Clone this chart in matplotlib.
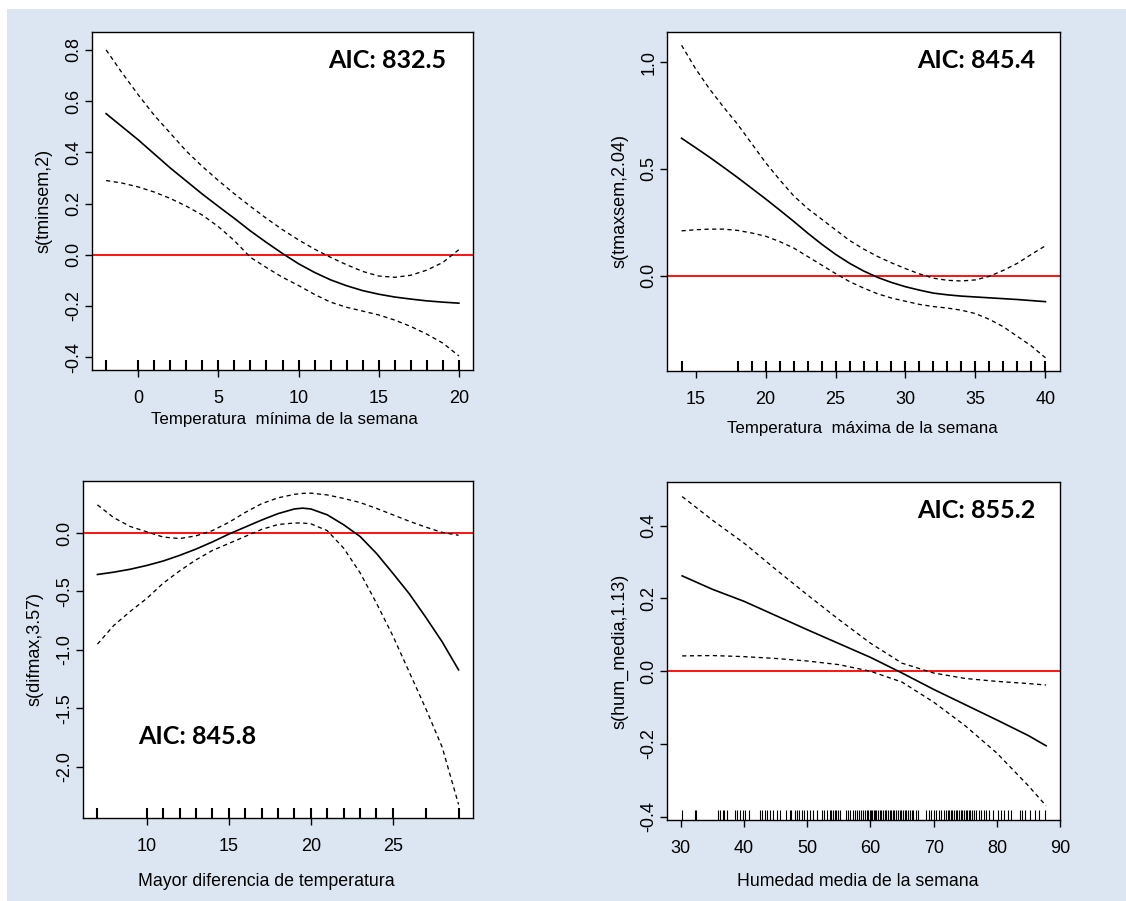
import matplotlib
matplotlib.use('Agg')
import matplotlib.pyplot as plt
from matplotlib.patches import Rectangle

plt.rcParams['font.family'] = ['Liberation Sans', 'DejaVu Sans']

# ---------------- data ----------------
# Panel 1: minimum weekly temperature
tmin_x = [-2, -1, 0, 1, 2, 3, 4, 5, 6, 7, 8, 9, 10, 11, 12, 13, 14, 15, 16, 17, 18, 19, 20]
tmin_fit = [0.551, 0.50, 0.449, 0.394, 0.339, 0.288, 0.237, 0.189, 0.142, 0.093, 0.048, 0.005,
            -0.035, -0.069, -0.098, -0.121, -0.140, -0.154, -0.165, -0.173, -0.180, -0.185, -0.189]
tmin_up = [0.80, 0.71, 0.625, 0.545, 0.475, 0.405, 0.345, 0.290, 0.238, 0.189, 0.142, 0.098,
           0.058, 0.022, -0.010, -0.039, -0.065, -0.083, -0.088, -0.080, -0.060, -0.030, 0.020]
tmin_lo = [0.29, 0.28, 0.265, 0.245, 0.22, 0.19, 0.155, 0.11, 0.055, -0.01, -0.05, -0.088,
           -0.12, -0.155, -0.185, -0.205, -0.22, -0.235, -0.255, -0.28, -0.31, -0.345, -0.395]
tmin_rug = [-2, 0, 1, 2, 3, 4, 5, 6, 7, 8, 9, 10, 11, 12, 13, 14, 15, 16, 17, 18, 19, 20]

# Panel 2: maximum weekly temperature
tmax_x = [14, 15, 16, 17, 18, 19, 20, 21, 22, 23, 24, 25, 26, 27, 28, 29, 30, 31, 32, 33, 34,
          35, 36, 37, 38, 39, 40]
tmax_fit = [0.644, 0.60, 0.555, 0.508, 0.46, 0.41, 0.36, 0.308, 0.255, 0.20, 0.148, 0.10, 0.058,
            0.022, -0.008, -0.032, -0.052, -0.068, -0.082, -0.09, -0.096, -0.10, -0.104, -0.108,
            -0.112, -0.117, -0.122]
tmax_up = [1.08, 0.97, 0.875, 0.79, 0.71, 0.62, 0.53, 0.45, 0.375, 0.315, 0.265, 0.215, 0.165,
           0.125, 0.09, 0.06, 0.033, 0.008, -0.012, -0.022, -0.025, -0.02, -0.003, 0.025, 0.058,
           0.10, 0.14]
tmax_lo = [0.21, 0.215, 0.218, 0.218, 0.212, 0.20, 0.185, 0.16, 0.13, 0.09, 0.05, 0.01, -0.028,
           -0.058, -0.085, -0.105, -0.12, -0.135, -0.145, -0.152, -0.162, -0.178, -0.205, -0.24,
           -0.285, -0.33, -0.385]
tmax_rug = [14, 18, 19, 20, 21, 22, 23, 24, 25, 26, 27, 28, 29, 30, 31, 32, 33, 34, 35, 36, 37,
            38, 39, 40]

# Panel 3: largest temperature difference
dif_x = [7, 8, 9, 10, 11, 12, 13, 14, 15, 16, 17, 18, 19, 19.5, 20, 21, 22, 23, 24, 25, 26, 27,
         28, 29]
dif_fit = [-0.355, -0.335, -0.31, -0.278, -0.24, -0.192, -0.138, -0.077, -0.01, 0.05, 0.11,
           0.165, 0.205, 0.212, 0.205, 0.155, 0.07, -0.03, -0.175, -0.345, -0.52, -0.72, -0.93,
           -1.17]
dif_up = [0.24, 0.13, 0.055, 0.01, -0.035, -0.048, -0.025, 0.02, 0.09, 0.175, 0.25, 0.30, 0.33,
          0.338, 0.34, 0.325, 0.295, 0.26, 0.21, 0.155, 0.10, 0.05, 0.005, -0.02]
dif_lo = [-0.95, -0.79, -0.67, -0.56, -0.43, -0.325, -0.23, -0.15, -0.09, -0.03, 0.03, 0.072,
          0.085, 0.085, 0.078, 0.02, -0.13, -0.34, -0.60, -0.88, -1.19, -1.50, -1.83, -2.32]
dif_rug = [7, 10, 11, 12, 13, 14, 15, 16, 17, 18, 19, 20, 21, 22, 23, 24, 25, 27, 29]

# Panel 4: mean weekly humidity
hum_x = [30.2, 35, 40, 45, 50, 55, 60, 65, 70, 75, 80, 85, 87.8]
hum_fit = [0.262, 0.225, 0.192, 0.153, 0.114, 0.076, 0.038, -0.005, -0.05, -0.092, -0.134,
           -0.177, -0.205]
hum_up = [0.48, 0.415, 0.352, 0.28, 0.21, 0.142, 0.077, 0.022, -0.005, -0.02, -0.028, -0.034,
          -0.038]
hum_lo = [0.042, 0.043, 0.04, 0.035, 0.028, 0.018, 0.0, -0.03, -0.085, -0.15, -0.225, -0.315,
          -0.37]
hum_rug = [30.2, 32.3, 32.4, 35.9, 36.2, 36.6, 36.9, 37.3, 38.6, 38.8, 39.4, 39.8, 40.1, 40.7,
           42.5, 42.9, 43.3, 43.7, 44.1, 44.6, 45.2, 45.7, 46.7, 47.2, 47.5, 48.1, 48.4, 48.7,
           49.2, 49.5, 50.0, 50.4, 50.9, 51.5, 52.3, 52.6, 53.1, 53.6, 53.8, 54.1, 54.4, 54.6,
           54.9, 55.2, 56.2, 56.5, 56.8, 57.2, 57.5, 57.8, 58.2, 58.5, 58.8, 59.2, 59.4, 59.6,
           59.9, 60.1, 60.3, 60.5, 60.7, 60.9, 61.2, 61.5, 61.7, 62.0, 62.3, 62.5, 62.8, 63.1,
           63.3, 63.6, 63.8, 64.1, 64.4, 64.6, 64.9, 65.2, 65.4, 65.7, 65.9, 66.2, 66.5, 66.8,
           67.2, 67.5, 68.8, 69.3, 69.6, 70.0, 70.4, 70.8, 71.2, 71.6, 71.9, 72.2, 72.4, 72.7,
           72.9, 73.2, 73.5, 73.7, 74.0, 74.3, 74.5, 74.8, 75.1, 75.3, 75.6, 75.8, 76.1, 76.4,
           76.7, 77.2, 77.5, 77.9, 78.3, 78.8, 79.4, 80.2, 80.7, 81.2, 81.7, 82.3, 83.6, 84.0,
           84.4, 85.2, 86.0, 86.7, 87.7]

panels = [
    dict(x=tmin_x, fit=tmin_fit, up=tmin_up, lo=tmin_lo, rug=tmin_rug, rug_lw=1.5,
         box=(92, 32, 473, 370), xlim=(-2.88, 20.88), ylim=(-0.45, 0.87),
         xticks=[0, 5, 10, 15, 20], yticks=[-0.4, -0.2, 0.0, 0.2, 0.4, 0.6, 0.8],
         yticklabels=['-0.4', '-0.2', '0.0', '0.2', '0.4', '0.6', '0.8'],
         xlabel='Temperatura  mínima de la semana', xlab_pos=(284, 419), xlab_fs=12.2,
         ylabel='s(tminsem,2)', ylab_pos=(44, 201),
         aic='AIC: 832.5', aic_pos=(387, 61)),
    dict(x=tmax_x, fit=tmax_fit, up=tmax_up, lo=tmax_lo, rug=tmax_rug, rug_lw=1.5,
         box=(667, 32, 1060, 371), xlim=(12.96, 41.04), ylim=(-0.447, 1.142),
         xticks=[15, 20, 25, 30, 35, 40], yticks=[0.0, 0.5, 1.0],
         yticklabels=['0.0', '0.5', '1.0'],
         xlabel='Temperatura  máxima de la semana', xlab_pos=(862, 429), xlab_fs=12.2,
         ylabel='s(tmaxsem,2.04)', ylab_pos=(620, 201),
         aic='AIC: 845.4', aic_pos=(976, 61)),
    dict(x=dif_x, fit=dif_fit, up=dif_up, lo=dif_lo, rug=dif_rug, rug_lw=1.5,
         box=(83, 481, 473, 818), xlim=(6.12, 29.88), ylim=(-2.436, 0.444),
         xticks=[10, 15, 20, 25], yticks=[-2.0, -1.5, -1.0, -0.5, 0.0],
         yticklabels=['-2.0', '-1.5', '-1.0', '-0.5', '0.0'],
         xlabel='Mayor diferencia de temperatura', xlab_pos=(266, 881), xlab_fs=12.8,
         ylabel='s(difmax,3.57)', ylab_pos=(35, 649),
         aic='AIC: 845.8', aic_pos=(197, 737)),
    dict(x=hum_x, fit=hum_fit, up=hum_up, lo=hum_lo, rug=hum_rug, rug_lw=0.8,
         box=(667, 482, 1060, 820), xlim=(27.8, 90.0), ylim=(-0.409, 0.52),
         xticks=[30, 40, 50, 60, 70, 80, 90], yticks=[-0.4, -0.2, 0.0, 0.2, 0.4],
         yticklabels=['-0.4', '-0.2', '0.0', '0.2', '0.4'],
         xlabel='Humedad media de la semana', xlab_pos=(858, 882), xlab_fs=12.8,
         ylabel='s(hum_media,1.13)', ylab_pos=(620, 651),
         aic='AIC: 855.2', aic_pos=(976, 510)),
]

W, H = 1126, 901
fig = plt.figure(figsize=(W / 100, H / 100), dpi=100)
fig.patch.set_facecolor('white')
fig.add_artist(Rectangle((7 / W, 0), 1 - 7 / W, 1 - 9 / H, transform=fig.transFigure,
                         facecolor='#dce6f2', edgecolor='none', zorder=-10))

DASH = (0, (3.2, 2.6))
for p in panels:
    l, t, r, b = p['box']
    ax = fig.add_axes([l / W, 1 - b / H, (r - l) / W, (b - t) / H])
    ax.set_facecolor('white')
    ax.plot(p['x'], p['fit'], color='black', lw=1.2, zorder=3)
    ax.plot(p['x'], p['up'], color='black', lw=0.95, linestyle=DASH, zorder=3)
    ax.plot(p['x'], p['lo'], color='black', lw=0.95, linestyle=DASH, zorder=3)
    ax.axhline(0, color='#ff0000', lw=1.3, zorder=2)
    ax.vlines(p['rug'], 0, 0.03, transform=ax.get_xaxis_transform(), colors='black',
              lw=p['rug_lw'], zorder=4)
    ax.set_xlim(*p['xlim'])
    ax.set_ylim(*p['ylim'])
    ax.set_xticks(p['xticks'])
    ax.set_xticklabels([str(v) for v in p['xticks']], fontsize=13)
    ax.set_yticks(p['yticks'])
    ax.set_yticklabels(p['yticklabels'], fontsize=13, rotation=90, va='center')
    ax.tick_params(axis='x', direction='out', length=5.2, width=1.0, pad=9.5, colors='black')
    ax.tick_params(axis='y', direction='out', length=5.2, width=1.0, pad=1.5, colors='black')
    for s in ax.spines.values():
        s.set_linewidth(1.0)
        s.set_color('black')
    xl, yl = p['xlab_pos']
    fig.text(xl / W, 1 - yl / H, p['xlabel'], ha='center', va='center',
             fontsize=p['xlab_fs'])
    xl, yl = p['ylab_pos']
    fig.text(xl / W, 1 - yl / H, p['ylabel'], ha='center', va='center', fontsize=13,
             rotation=90)
    xa, ya = p['aic_pos']
    fig.text(xa / W, 1 - ya / H, p['aic'], ha='center', va='center', fontsize=18,
             fontweight='bold', family=['Lato', 'DejaVu Sans'])

fig.savefig('out.png', dpi=100)
